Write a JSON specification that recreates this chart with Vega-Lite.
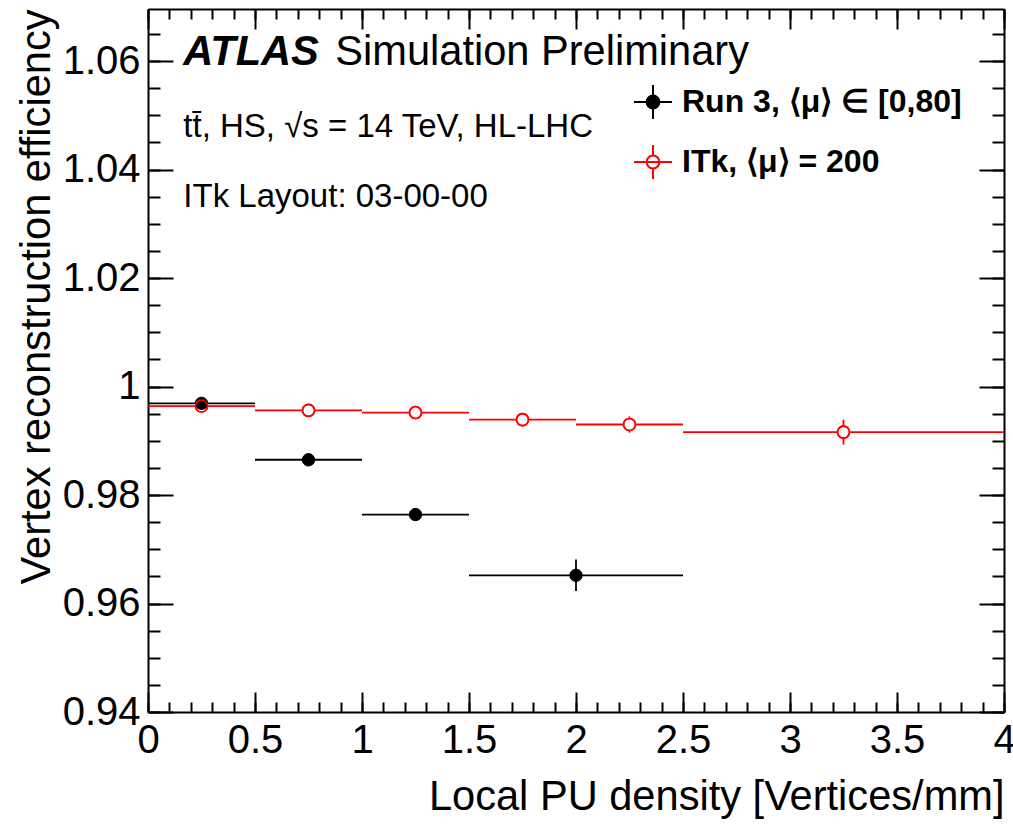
{
  "$schema": "https://vega.github.io/schema/vega-lite/v6.json",
  "width": 856,
  "height": 703,
  "autosize": {"type": "none"},
  "padding": {"left": 148, "top": 9, "right": 9, "bottom": 120},
  "background": "white",
  "config": {
    "view": {"stroke": null},
    "font": "Liberation Sans",
    "axis": {
      "grid": false,
      "labelFlush": false,
      "labelOverlap": false,
      "labelBound": false,
      "domainColor": "black",
      "domainWidth": 2,
      "tickColor": "black",
      "tickWidth": 2,
      "labelColor": "black",
      "titleColor": "black",
      "labelFont": "Liberation Sans",
      "titleFont": "Liberation Sans"
    }
  },
  "datasets": {
    "pts": [
      {"series": "ITk, ⟨μ⟩ = 200", "x": 0.25, "xlo": 0.0, "xhi": 0.5, "y": 0.9964, "ylo": 0.9961, "yhi": 0.9967},
      {"series": "ITk, ⟨μ⟩ = 200", "x": 0.75, "xlo": 0.5, "xhi": 1.0, "y": 0.9956, "ylo": 0.9952, "yhi": 0.9960},
      {"series": "ITk, ⟨μ⟩ = 200", "x": 1.25, "xlo": 1.0, "xhi": 1.5, "y": 0.9952, "ylo": 0.9947, "yhi": 0.9957},
      {"series": "ITk, ⟨μ⟩ = 200", "x": 1.75, "xlo": 1.5, "xhi": 2.0, "y": 0.9939, "ylo": 0.9933, "yhi": 0.9945},
      {"series": "ITk, ⟨μ⟩ = 200", "x": 2.25, "xlo": 2.0, "xhi": 2.5, "y": 0.9930, "ylo": 0.9915, "yhi": 0.9945},
      {"series": "ITk, ⟨μ⟩ = 200", "x": 3.25, "xlo": 2.5, "xhi": 4.0, "y": 0.9916, "ylo": 0.9893, "yhi": 0.9939},
      {"series": "Run 3, ⟨μ⟩ ∈ [0,80]", "x": 0.25, "xlo": 0.0, "xhi": 0.5, "y": 0.9969, "ylo": 0.9965, "yhi": 0.9973},
      {"series": "Run 3, ⟨μ⟩ ∈ [0,80]", "x": 0.75, "xlo": 0.5, "xhi": 1.0, "y": 0.9865, "ylo": 0.9860, "yhi": 0.9870},
      {"series": "Run 3, ⟨μ⟩ ∈ [0,80]", "x": 1.25, "xlo": 1.0, "xhi": 1.5, "y": 0.9764, "ylo": 0.9758, "yhi": 0.9770},
      {"series": "Run 3, ⟨μ⟩ ∈ [0,80]", "x": 2.0, "xlo": 1.5, "xhi": 2.5, "y": 0.9652, "ylo": 0.9623, "yhi": 0.9681}
    ]
  },
  "resolve": {"axis": {"x": "independent", "y": "independent"}},
  "layer": [
    {
      "data": {"name": "pts"},
      "mark": {"type": "rule", "strokeWidth": 1.8},
      "encoding": {
        "x": {
          "field": "xlo", "type": "quantitative",
          "scale": {"domain": [0, 4], "nice": false, "zero": false},
          "axis": {
            "orient": "bottom",
            "values": [0, 0.5, 1, 1.5, 2, 2.5, 3, 3.5, 4],
            "tickSize": -20,
            "labelFontSize": 40,
            "labelPadding": 28,
            "format": "~g",
            "title": "Local PU density [Vertices/mm]",
            "titleFontSize": 41.6,
            "titleFontWeight": "normal",
            "titleAnchor": "end",
            "titlePadding": 16
          }
        },
        "x2": {"field": "xhi"},
        "y": {
          "field": "y", "type": "quantitative",
          "scale": {"domain": [0.94, 1.0696], "nice": false, "zero": false},
          "axis": {
            "orient": "left",
            "values": [0.94, 0.96, 0.98, 1.0, 1.02, 1.04, 1.06],
            "tickSize": -25,
            "labelFontSize": 40,
            "labelPadding": 33,
            "format": "~g",
            "title": "Vertex reconstruction efficiency",
            "titleFontSize": 41.6,
            "titleFontWeight": "normal",
            "titleAnchor": "end",
            "titlePadding": 4
          }
        },
        "stroke": {
          "field": "series", "type": "nominal",
          "scale": {"domain": ["Run 3, ⟨μ⟩ ∈ [0,80]", "ITk, ⟨μ⟩ = 200"], "range": ["#000000", "#ff0000"]}
        }
      }
    },
    {
      "data": {"name": "pts"},
      "mark": {"type": "rule", "strokeWidth": 1.8},
      "encoding": {
        "x": {
          "field": "x", "type": "quantitative",
          "scale": {"domain": [0, 4], "nice": false, "zero": false},
          "axis": {
            "orient": "bottom",
            "values": [0, 0.1, 0.2, 0.3, 0.4, 0.5, 0.6, 0.7, 0.8, 0.9, 1, 1.1, 1.2, 1.3, 1.4, 1.5, 1.6, 1.7, 1.8, 1.9, 2, 2.1, 2.2, 2.3, 2.4, 2.5, 2.6, 2.7, 2.8, 2.9, 3, 3.1, 3.2, 3.3, 3.4, 3.5, 3.6, 3.7, 3.8, 3.9, 4],
            "tickSize": -10,
            "labels": false,
            "domain": false,
            "title": null
          }
        },
        "y": {
          "field": "ylo", "type": "quantitative",
          "scale": {"domain": [0.94, 1.0696], "nice": false, "zero": false},
          "axis": {
            "orient": "left",
            "values": [0.94, 0.945, 0.95, 0.955, 0.96, 0.965, 0.97, 0.975, 0.98, 0.985, 0.99, 0.995, 1.0, 1.005, 1.01, 1.015, 1.02, 1.025, 1.03, 1.035, 1.04, 1.045, 1.05, 1.055, 1.06, 1.065],
            "tickSize": -12,
            "labels": false,
            "domain": false,
            "title": null
          }
        },
        "y2": {"field": "yhi"},
        "stroke": {
          "field": "series", "type": "nominal",
          "scale": {"domain": ["Run 3, ⟨μ⟩ ∈ [0,80]", "ITk, ⟨μ⟩ = 200"], "range": ["#000000", "#ff0000"]}
        }
      }
    },
    {
      "data": {"name": "pts"},
      "transform": [{"filter": "datum.series === 'ITk, ⟨μ⟩ = 200'"}],
      "mark": {"type": "point", "shape": "circle", "size": 144, "filled": false, "fill": "#ffffff", "fillOpacity": 1, "stroke": "#ff0000", "strokeWidth": 1.6, "opacity": 1},
      "encoding": {
        "x": {
          "field": "x", "type": "quantitative",
          "scale": {"domain": [0, 4], "nice": false, "zero": false},
          "axis": {
            "orient": "top",
            "values": [0, 0.5, 1, 1.5, 2, 2.5, 3, 3.5, 4],
            "tickSize": -20,
            "labels": false,
            "domain": true,
            "title": null
          }
        },
        "y": {
          "field": "y", "type": "quantitative",
          "scale": {"domain": [0.94, 1.0696], "nice": false, "zero": false},
          "axis": {
            "orient": "right",
            "values": [0.94, 0.96, 0.98, 1.0, 1.02, 1.04, 1.06],
            "tickSize": -25,
            "labels": false,
            "domain": true,
            "title": null
          }
        }
      }
    },
    {
      "data": {"name": "pts"},
      "transform": [{"filter": "datum.series === 'Run 3, ⟨μ⟩ ∈ [0,80]'"}],
      "mark": {"type": "point", "shape": "circle", "size": 154, "strokeWidth": 1, "opacity": 1, "fillOpacity": 1},
      "encoding": {
        "x": {
          "field": "x", "type": "quantitative",
          "scale": {"domain": [0, 4], "nice": false, "zero": false},
          "axis": {
            "orient": "top",
            "values": [0, 0.1, 0.2, 0.3, 0.4, 0.5, 0.6, 0.7, 0.8, 0.9, 1, 1.1, 1.2, 1.3, 1.4, 1.5, 1.6, 1.7, 1.8, 1.9, 2, 2.1, 2.2, 2.3, 2.4, 2.5, 2.6, 2.7, 2.8, 2.9, 3, 3.1, 3.2, 3.3, 3.4, 3.5, 3.6, 3.7, 3.8, 3.9, 4],
            "tickSize": -10,
            "labels": false,
            "domain": false,
            "title": null
          }
        },
        "y": {
          "field": "y", "type": "quantitative",
          "scale": {"domain": [0.94, 1.0696], "nice": false, "zero": false},
          "axis": {
            "orient": "right",
            "values": [0.94, 0.945, 0.95, 0.955, 0.96, 0.965, 0.97, 0.975, 0.98, 0.985, 0.99, 0.995, 1.0, 1.005, 1.01, 1.015, 1.02, 1.025, 1.03, 1.035, 1.04, 1.045, 1.05, 1.055, 1.06, 1.065],
            "tickSize": -12,
            "labels": false,
            "domain": false,
            "title": null
          }
        },
        "stroke": {
          "field": "series", "type": "nominal",
          "scale": {"domain": ["Run 3, ⟨μ⟩ ∈ [0,80]", "ITk, ⟨μ⟩ = 200"], "range": ["#000000", "#ff0000"]},
          "legend": {
            "title": null,
            "orient": "none",
            "legendX": 484,
            "legendY": 72,
            "padding": 0,
            "symbolType": "M-0.95,0H0.95M0,-0.85V-0.32M0,0.32V0.85M0.32,0A0.32,0.32 0 1,1 -0.32,0A0.32,0.32 0 1,1 0.32,0Z",
            "symbolSize": 1600,
            "symbolStrokeWidth": 2,
            "symbolOpacity": 1,
            "labelFont": "Liberation Sans",
            "labelFontSize": 32,
            "labelFontWeight": "bold",
            "labelColor": "black",
            "labelOffset": 8,
            "labelLimit": 0,
            "rowPadding": 18
          }
        },
        "fill": {
          "field": "series", "type": "nominal",
          "scale": {"domain": ["Run 3, ⟨μ⟩ ∈ [0,80]", "ITk, ⟨μ⟩ = 200"], "range": ["#000000", "#ffffff"]},
          "legend": {
            "title": null,
            "orient": "none",
            "legendX": 484,
            "legendY": 72,
            "padding": 0,
            "symbolType": "M-0.95,0H0.95M0,-0.85V-0.32M0,0.32V0.85M0.32,0A0.32,0.32 0 1,1 -0.32,0A0.32,0.32 0 1,1 0.32,0Z",
            "symbolSize": 1600,
            "symbolStrokeWidth": 2,
            "symbolOpacity": 1,
            "labelFont": "Liberation Sans",
            "labelFontSize": 32,
            "labelFontWeight": "bold",
            "labelColor": "black",
            "labelOffset": 8,
            "labelLimit": 0,
            "rowPadding": 18
          }
        }
      }
    },
    {
      "data": {"name": "pts"},
      "transform": [{"filter": "datum.series === 'ITk, ⟨μ⟩ = 200'"}],
      "mark": {"type": "point", "shape": "circle", "size": 144, "filled": false, "fill": null, "stroke": "#ff0000", "strokeWidth": 1.6, "opacity": 1},
      "encoding": {
        "x": {"field": "x", "type": "quantitative", "scale": {"domain": [0, 4], "nice": false, "zero": false}, "axis": null},
        "y": {"field": "y", "type": "quantitative", "scale": {"domain": [0.94, 1.0696], "nice": false, "zero": false}, "axis": null}
      }
    },
    {
      "data": {"values": [{"label": "ATLAS"}]},
      "mark": {"type": "text", "align": "left", "baseline": "alphabetic", "font": "Liberation Sans", "fontSize": 41.6, "fontWeight": "bold", "fontStyle": "italic", "color": "black"},
      "encoding": {
        "x": {"datum": 0.165, "type": "quantitative", "axis": null},
        "y": {"datum": 1.0593, "type": "quantitative", "axis": null},
        "text": {"field": "label"}
      }
    },
    {
      "data": {"values": [{"label": "Simulation Preliminary"}]},
      "mark": {"type": "text", "align": "left", "baseline": "alphabetic", "font": "Liberation Sans", "fontSize": 41.6, "color": "black"},
      "encoding": {
        "x": {"datum": 0.875, "type": "quantitative", "axis": null},
        "y": {"datum": 1.0593, "type": "quantitative", "axis": null},
        "text": {"field": "label"}
      }
    },
    {
      "data": {"values": [{"label": "tt̄, HS, √s = 14 TeV, HL-LHC"}]},
      "mark": {"type": "text", "align": "left", "baseline": "alphabetic", "font": "Liberation Sans", "fontSize": 33, "color": "black"},
      "encoding": {
        "x": {"datum": 0.165, "type": "quantitative", "axis": null},
        "y": {"datum": 1.046, "type": "quantitative", "axis": null},
        "text": {"field": "label"}
      }
    },
    {
      "data": {"values": [{"label": "ITk Layout: 03-00-00"}]},
      "mark": {"type": "text", "align": "left", "baseline": "alphabetic", "font": "Liberation Sans", "fontSize": 33, "color": "black"},
      "encoding": {
        "x": {"datum": 0.165, "type": "quantitative", "axis": null},
        "y": {"datum": 1.0331, "type": "quantitative", "axis": null},
        "text": {"field": "label"}
      }
    }
  ]
}
